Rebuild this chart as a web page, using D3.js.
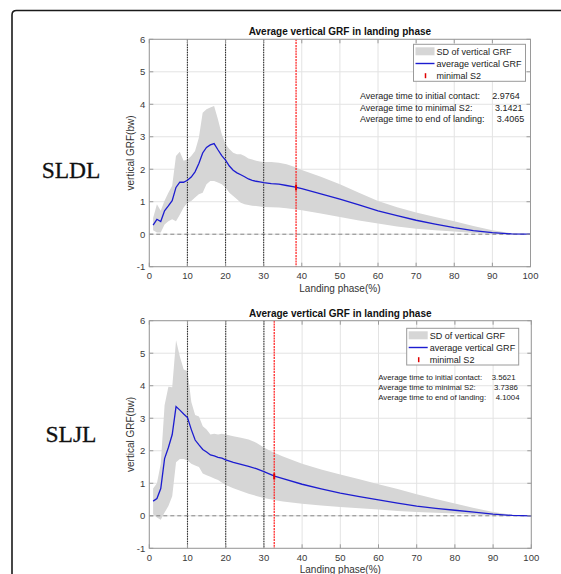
<!DOCTYPE html>
<html>
<head>
<meta charset="utf-8">
<script src="https://cdn.jsdelivr.net/npm/d3@7"></script>
<style>
  body { margin: 0; background: #fff; }
  svg { display: block; font-family: "Liberation Sans", Arial, sans-serif; }
</style>
</head>
<body>
<svg id="chart" width="561" height="574"></svg>
<script>
// ---- data ----
const xTicks = [0, 10, 20, 30, 40, 50, 60, 70, 80, 90, 100];
const yTicks = [-1, 0, 1, 2, 3, 4, 5, 6];
const phaseLines = [10, 20, 30];

// SLDL panel
const sldlX     = [1,2,3,4,5,6,7,8,9,10,11,12,13,14,15,16,17,18,19,20,21,22,23,24,25,26,27,28,29,30,32,34,36,38,40,45,50,55,60,65,70,75,80,85,90,95,100];
const sldlMean  = [0.28,0.46,0.39,0.72,0.87,1.03,1.44,1.6,1.6,1.66,1.76,1.92,2.18,2.5,2.67,2.75,2.79,2.6,2.42,2.28,2.1,1.97,1.89,1.83,1.77,1.7,1.66,1.63,1.61,1.59,1.56,1.54,1.5,1.46,1.4,1.24,1.08,0.9,0.72,0.57,0.43,0.31,0.2,0.11,0.05,0.01,0];
const sldlUpper = [0.5,0.92,0.72,1.03,1.28,1.49,2.41,2.54,2.26,2.3,2.41,2.56,2.97,3.74,3.85,3.9,3.95,3.54,3.08,2.77,2.62,2.51,2.46,2.46,2.41,2.33,2.3,2.26,2.24,2.22,2.22,2.2,2.15,2.08,1.98,1.77,1.54,1.28,1.02,0.83,0.67,0.53,0.4,0.25,0.12,0.03,0];
const sldlLower = [0.12,0.05,0.05,0.3,0.4,0.46,0.4,0.6,0.82,0.97,1.02,1.13,1.23,1.28,1.54,1.64,1.64,1.59,1.54,1.44,1.28,1.18,1.08,0.97,0.92,0.9,0.88,0.87,0.85,0.84,0.83,0.82,0.8,0.77,0.74,0.64,0.53,0.42,0.33,0.24,0.17,0.12,0.08,0.04,0.01,0,0];
const sldlS2 = 38.5;
const sldlS2Value = 1.44;
const sldlTimes = [["Average time to initial contact:", "2.9764"], ["Average time to minimal S2:", "3.1421"], ["Average time to end of landing:", "3.4065"]];

// SLJL panel
const sljlX     = [1,2,3,4,5,6,7,8,9,10,11,12,13,14,15,16,17,18,19,20,22,24,26,28,30,32,33,35,40,45,50,55,60,65,70,75,80,85,90,95,100];
const sljlMean  = [0.45,0.53,0.84,1.76,2.1,2.5,3.36,3.25,3.13,3.02,2.65,2.33,2.18,2.04,1.96,1.87,1.84,1.8,1.77,1.72,1.64,1.58,1.52,1.45,1.36,1.26,1.21,1.14,0.97,0.83,0.7,0.59,0.49,0.39,0.3,0.23,0.17,0.11,0.05,0.01,0];
const sljlUpper = [0.84,1.0,1.6,3.4,3.97,3.95,5.4,4.9,4.5,4.45,3.5,3.1,3.05,2.75,2.65,2.5,2.52,2.5,2.52,2.5,2.45,2.4,2.35,2.25,2.1,1.98,1.92,1.82,1.6,1.42,1.27,1.12,0.97,0.82,0.66,0.52,0.38,0.24,0.12,0.03,0];
const sljlLower = [0.05,-0.05,-0.12,0.1,0.3,0.6,1.65,1.75,1.75,1.7,1.6,1.55,1.5,1.3,1.25,1.2,1.15,1.1,1.02,0.95,0.85,0.76,0.68,0.61,0.55,0.5,0.48,0.44,0.37,0.32,0.27,0.23,0.19,0.15,0.12,0.09,0.07,0.04,0.02,0,0];
const sljlS2 = 32.7;
const sljlS2Value = 1.21;
const sljlTimes = [["Average time to initial contact:", "3.5621"], ["Average time to minimal S2:", "3.7386"], ["Average time to end of landing:", "4.1004"]];

const legendLabels = ["SD of vertical GRF", "average vertical GRF", "minimal S2"];

const svg = d3.select("#chart");

// outer frame (rounded corner, runs off the right and bottom)
svg.append("path")
    .attr("d", "M12,600 L12,15 Q12,10.5 16.5,10.5 L600,10.5")
    .attr("fill", "none")
    .attr("stroke", "#1a1a1a")
    .attr("stroke-width", 1.6);

function drawPanel(cfg) {
    const x = d3.scaleLinear().domain([0, 100]).range([cfg.left, cfg.right]);
    const y = d3.scaleLinear().domain([-1, 6]).range([cfg.bottom, cfg.top]);
    const g = svg.append("g");

    // grid
    g.selectAll(".gx").data(xTicks).enter().append("line")
        .attr("x1", d => x(d)).attr("x2", d => x(d))
        .attr("y1", cfg.top).attr("y2", cfg.bottom)
        .attr("stroke", "#e3e3e3").attr("stroke-width", 1);
    g.selectAll(".gy").data(yTicks).enter().append("line")
        .attr("y1", d => y(d)).attr("y2", d => y(d))
        .attr("x1", cfg.left).attr("x2", cfg.right)
        .attr("stroke", "#e3e3e3").attr("stroke-width", 1);

    // SD band
    const rows = cfg.xs.map((v, i) => ({ x: v, m: cfg.mean[i], hi: cfg.upper[i], lo: cfg.lower[i] }));
    const area = d3.area().x(d => x(d.x)).y0(d => y(d.lo)).y1(d => y(d.hi));
    g.append("path").datum(rows)
        .attr("d", area)
        .attr("fill", "#d6d6d6");

    // zero line
    g.append("line")
        .attr("x1", cfg.left).attr("x2", cfg.right)
        .attr("y1", y(0)).attr("y2", y(0))
        .attr("stroke", "#7a7a7a").attr("stroke-width", 0.9)
        .attr("stroke-dasharray", "4,3");

    // phase lines
    g.selectAll(".ph").data(phaseLines).enter().append("line")
        .attr("x1", d => x(d)).attr("x2", d => x(d))
        .attr("y1", cfg.top).attr("y2", cfg.bottom)
        .attr("stroke", "#2a2a2a").attr("stroke-width", 1.1)
        .attr("stroke-dasharray", "1.5,1");

    // mean line
    const line = d3.line().x(d => x(d.x)).y(d => y(d.m));
    g.append("path").datum(rows)
        .attr("d", line)
        .attr("fill", "none")
        .attr("stroke", "#1c1cd0")
        .attr("stroke-width", 1.3);

    // minimal S2 line
    g.append("line")
        .attr("x1", x(cfg.s2)).attr("x2", x(cfg.s2))
        .attr("y1", cfg.top).attr("y2", cfg.bottom)
        .attr("stroke", "#ff1a1a").attr("stroke-width", 1.2)
        .attr("stroke-dasharray", "2,0.8");
    g.append("line")
        .attr("x1", x(cfg.s2)).attr("x2", x(cfg.s2))
        .attr("y1", y(cfg.s2Value) - 3).attr("y2", y(cfg.s2Value) + 3)
        .attr("stroke", "#e00000").attr("stroke-width", 2);

    // axes box
    g.append("rect")
        .attr("x", cfg.left).attr("y", cfg.top)
        .attr("width", cfg.right - cfg.left).attr("height", cfg.bottom - cfg.top)
        .attr("fill", "none").attr("stroke", "#9a9a9a").attr("stroke-width", 1);

    // inner ticks
    xTicks.forEach(t => {
        g.append("line").attr("x1", x(t)).attr("x2", x(t)).attr("y1", cfg.bottom).attr("y2", cfg.bottom - 4).attr("stroke", "#9a9a9a");
        g.append("line").attr("x1", x(t)).attr("x2", x(t)).attr("y1", cfg.top).attr("y2", cfg.top + 4).attr("stroke", "#9a9a9a");
    });
    yTicks.forEach(t => {
        g.append("line").attr("y1", y(t)).attr("y2", y(t)).attr("x1", cfg.left).attr("x2", cfg.left + 4).attr("stroke", "#9a9a9a");
        g.append("line").attr("y1", y(t)).attr("y2", y(t)).attr("x1", cfg.right).attr("x2", cfg.right - 4).attr("stroke", "#9a9a9a");
    });

    // tick labels
    g.selectAll(".xl").data(xTicks).enter().append("text")
        .attr("x", d => x(d)).attr("y", cfg.bottom + 12.5)
        .attr("text-anchor", "middle")
        .attr("font-size", "9.5px").attr("fill", "#3a3a3a")
        .text(d => d);
    g.selectAll(".yl").data(yTicks).enter().append("text")
        .attr("x", cfg.left - 4).attr("y", d => y(d) + 3.5)
        .attr("text-anchor", "end")
        .attr("font-size", "9.5px").attr("fill", "#3a3a3a")
        .text(d => d);

    // title & axis labels
    g.append("text")
        .attr("x", (cfg.left + cfg.right) / 2).attr("y", cfg.top - 4)
        .attr("text-anchor", "middle")
        .attr("font-size", "10px").attr("font-weight", "bold").attr("fill", "#111")
        .text("Average vertical GRF in landing phase");
    g.append("text")
        .attr("x", (cfg.left + cfg.right) / 2).attr("y", cfg.bottom + 25)
        .attr("text-anchor", "middle")
        .attr("font-size", "10px").attr("fill", "#333")
        .text("Landing phase(%)");
    g.append("text")
        .attr("transform", `translate(${cfg.left - 15},${(cfg.top + cfg.bottom) / 2}) rotate(-90)`)
        .attr("text-anchor", "middle")
        .attr("font-size", "10px").attr("fill", "#333")
        .text("vertical GRF(bw)");

    // legend
    const lg = cfg.legend;
    g.append("rect")
        .attr("x", lg.x).attr("y", lg.y).attr("width", lg.w).attr("height", lg.h)
        .attr("fill", "#fff").attr("stroke", "#9a9a9a").attr("stroke-width", 1);
    const rowY = i => lg.y + 7 + i * 12.2;
    g.append("rect")
        .attr("x", lg.x + 2).attr("y", rowY(0) - 4).attr("width", 19).attr("height", 8)
        .attr("fill", "#d6d6d6");
    g.append("line")
        .attr("x1", lg.x + 2).attr("x2", lg.x + 21).attr("y1", rowY(1)).attr("y2", rowY(1))
        .attr("stroke", "#1c1cd0").attr("stroke-width", 1.4);
    g.append("line")
        .attr("x1", lg.x + 12).attr("x2", lg.x + 12).attr("y1", rowY(2) - 2.5).attr("y2", rowY(2) + 2.5)
        .attr("stroke", "#e00000").attr("stroke-width", 1.5);
    g.selectAll(".lt").data(legendLabels).enter().append("text")
        .attr("x", lg.x + 23).attr("y", (d, i) => rowY(i) + 3.3)
        .attr("font-size", lg.fs + "px").attr("fill", "#222")
        .text(d => d);

    // timing annotation
    const an = cfg.note;
    cfg.times.forEach((row, i) => {
        g.append("text")
            .attr("x", an.x).attr("y", an.y + i * an.dy)
            .attr("font-size", an.fs + "px").attr("fill", "#222")
            .text(row[0]);
        g.append("text")
            .attr("x", an.vx[i]).attr("y", an.y + i * an.dy)
            .attr("font-size", an.fs + "px").attr("fill", "#222")
            .text(row[1]);
    });

    // side label
    svg.append("text")
        .attr("x", 71).attr("y", cfg.sideY)
        .attr("text-anchor", "middle")
        .attr("font-family", "'Liberation Serif', 'Times New Roman', serif")
        .attr("font-size", "23.5px").attr("fill", "#111")
        .attr("stroke", "#111").attr("stroke-width", 0.3)
        .text(cfg.side);
}

drawPanel({
    left: 149.3, right: 530.5, top: 39.3, bottom: 266.7,
    xs: sldlX, mean: sldlMean, upper: sldlUpper, lower: sldlLower,
    s2: sldlS2, s2Value: sldlS2Value, times: sldlTimes,
    legend: { x: 413.5, y: 44.3, w: 112, h: 37, fs: 9 },
    note: { x: 360, y: 99, dy: 11.7, fs: 9, vx: [492.3, 495, 496.7] },
    side: "SLDL", sideY: 178
});

drawPanel({
    left: 149.3, right: 531.3, top: 320.7, bottom: 548.3,
    xs: sljlX, mean: sljlMean, upper: sljlUpper, lower: sljlLower,
    s2: sljlS2, s2Value: sljlS2Value, times: sljlTimes,
    legend: { x: 406.7, y: 328.3, w: 112, h: 36.7, fs: 9.05 },
    note: { x: 378.3, y: 380, dy: 10, fs: 7.8, vx: [491.7, 494, 495.7] },
    side: "SLJL", sideY: 442
});
</script>
</body>
</html>
